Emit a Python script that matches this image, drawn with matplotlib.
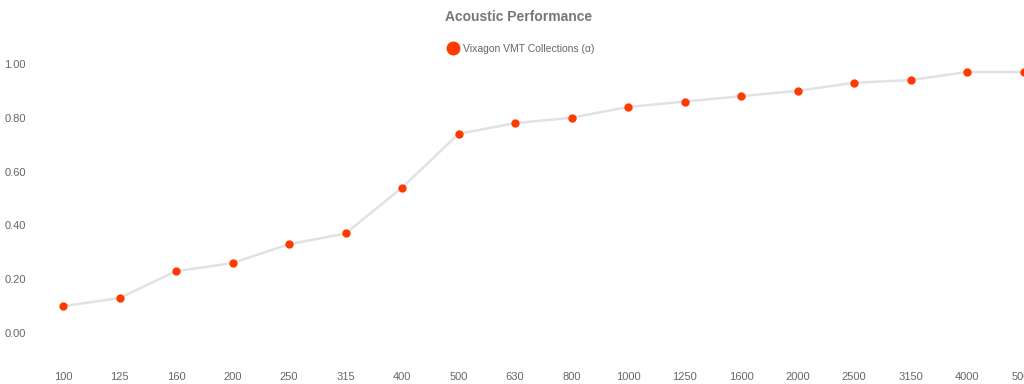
import matplotlib
matplotlib.use("Agg")
import matplotlib.pyplot as plt
from matplotlib.lines import Line2D

plt.rcParams['font.family'] = ['Liberation Sans', 'DejaVu Sans']

categories = ["100", "125", "160", "200", "250", "315", "400", "500", "630", "800",
              "1000", "1250", "1600", "2000", "2500", "3150", "4000", "5000"]
values = [0.10, 0.13, 0.23, 0.26, 0.33, 0.37, 0.54, 0.74, 0.78, 0.80,
          0.84, 0.86, 0.88, 0.90, 0.93, 0.94, 0.97, 0.97]
yticks = [0.0, 0.2, 0.4, 0.6, 0.8, 1.0]
series_name = "Vixagon VMT Collections (α)"

W, H = 1024, 384
fig = plt.figure(figsize=(W / 100, H / 100), dpi=100)
step = 56.5
left_px = 63 - 0.5 * step
right_px = 63 + 17.5 * step
top_px, bot_px = 37, 360
ax = fig.add_axes([left_px / W, 1 - bot_px / H, (right_px - left_px) / W, (bot_px - top_px) / H])

x = list(range(len(categories)))
ax.plot(x, values, color='#e2e2e2', lw=1.8, zorder=1)
ax.scatter(x, values, s=36, color='#ff3a00', zorder=2, linewidths=0)

ax.set_xlim(-0.5, len(categories) - 0.5)
ax.set_ylim(-0.1, 1.1)
ax.set_xticks(x)
ax.set_xticklabels(categories)
ax.set_yticks(yticks)
ax.set_yticklabels([f"{v:.2f}" for v in yticks])
ax.tick_params(length=0, labelsize=8, colors='#666666')
ax.tick_params(axis='x', pad=9)
ax.tick_params(axis='y', pad=6.5)
for s in ax.spines.values():
    s.set_visible(False)

fig.text(519 / W, 1 - 17 / H, "Acoustic Performance", ha='center', va='center',
         fontsize=10, fontweight='bold', color='#777777')

handle = Line2D([], [], marker='o', ls='none', color='#ff3a00', markersize=9)
fig.legend([handle], [series_name], loc='center', bbox_to_anchor=(521 / W, 1 - 49 / H),
           frameon=False, fontsize=7.5, labelcolor='#666666', handletextpad=0.45,
           handlelength=1.0)

fig.savefig("out.png", dpi=100)
